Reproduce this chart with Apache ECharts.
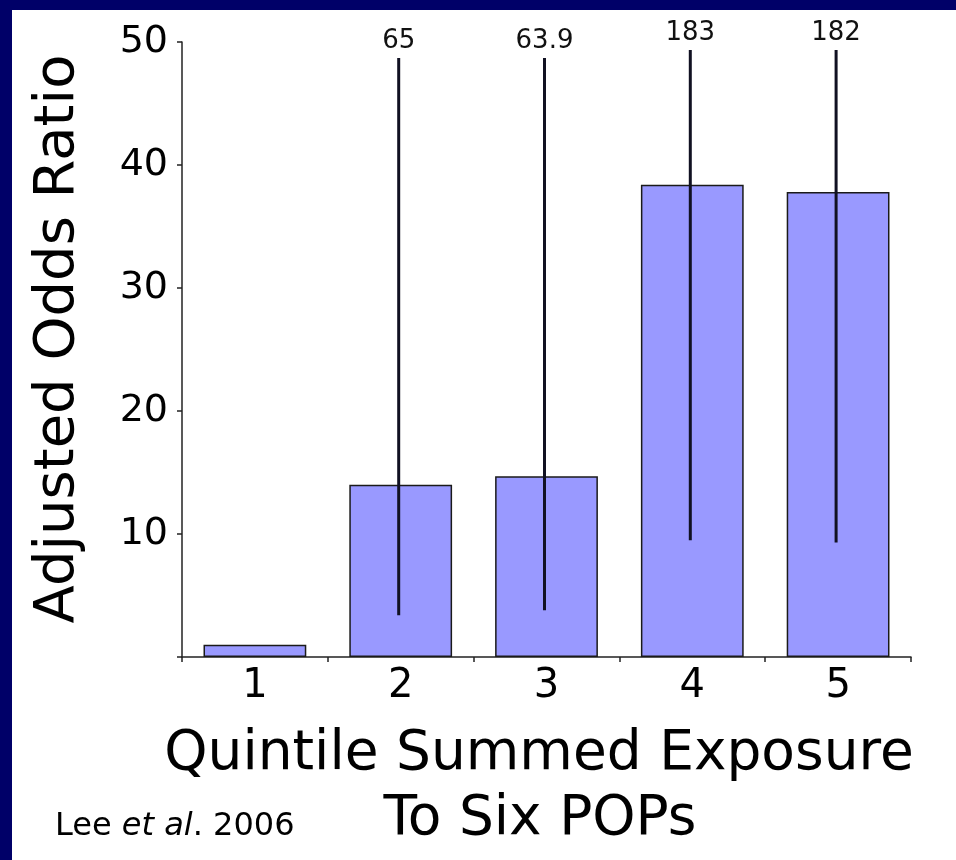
<!DOCTYPE html>
<html>
<head>
<meta charset="utf-8">
<title>Adjusted Odds Ratio by Quintile of Summed POP Exposure</title>
<script src="https://cdn.jsdelivr.net/npm/echarts@6/dist/echarts.min.js"></script>
<style>
  html, body { margin: 0; padding: 0; background: #ffffff; }
  #chart { width: 956px; height: 860px; }
</style>
</head>
<body>
<div id="chart"></div>
<script>
// Quintiles of summed exposure to six POPs
const quintiles = ['1', '2', '3', '4', '5'];
// Adjusted odds ratios (quintile 1 is the reference group)
const oddsRatios = [1.0, 14.0, 14.7, 38.4, 37.8];
// 95% confidence limits
const ciLower = [null, 3.4, 3.8, 9.5, 9.3];
const ciUpper = [null, 65, 63.9, 183, 182];
// Upper limits run off the axis; whiskers are cut here and the true limit is written above
const ciShownTop = [null, 48.7, 48.7, 49.35, 49.35];
// Value axis
const yMin = 0, yMax = 50, yStep = 10;

const FONT = '"DejaVu Sans", Verdana, sans-serif';

const errorData = quintiles.map((q, i) => [i, ciLower[i], Math.min(ciUpper[i] ?? 0, ciShownTop[i] ?? 0), ciUpper[i]])
  .filter(d => d[1] != null);

const chart = echarts.init(document.getElementById('chart'), null, { renderer: 'canvas' });

chart.setOption({
  backgroundColor: '#ffffff',
  animation: false,
  grid: { left: 182, right: 45, top: 42, bottom: 203, containLabel: false },
  xAxis: {
    type: 'category',
    data: quintiles,
    boundaryGap: true,
    axisLine: { lineStyle: { color: '#222', width: 1.5 } },
    axisTick: { show: true, length: 5, lineStyle: { color: '#222', width: 1.5 } },
    axisLabel: { color: '#000', fontFamily: FONT, fontSize: 40, margin: 10 },
    splitLine: { show: false }
  },
  yAxis: {
    type: 'value',
    min: yMin, max: yMax, interval: yStep,
    axisLine: { show: true, lineStyle: { color: '#222', width: 1.5 } },
    axisTick: { show: true, length: 5, lineStyle: { color: '#222', width: 1.5 } },
    axisLabel: {
      color: '#000', fontFamily: FONT, fontSize: 38, margin: 14,
      formatter: v => (v === 0 ? '' : String(v))
    },
    splitLine: { show: false }
  },
  series: [
    {
      type: 'bar',
      data: oddsRatios,
      barWidth: '70.5%',
      itemStyle: { color: '#9999ff', borderColor: '#1a1a1a', borderWidth: 1.5 },
      z: 2
    },
    {
      type: 'custom',
      data: errorData,
      z: 5,
      renderItem: (params, api) => {
        const x = api.value(0);
        const lo = api.coord([x, api.value(1)]);
        const hi = api.coord([x, api.value(2)]);
        return {
          type: 'group',
          children: [
            {
              type: 'line',
              shape: { x1: lo[0] - 2, y1: lo[1], x2: hi[0] - 2, y2: hi[1] },
              style: { stroke: '#111122', lineWidth: 3 }
            },
            {
              type: 'text',
              x: hi[0] - 2,
              y: hi[1] - 4,
              style: {
                text: String(api.value(3)),
                fill: '#111',
                font: '26px ' + FONT,
                textAlign: 'center',
                textVerticalAlign: 'bottom'
              }
            }
          ]
        };
      }
    }
  ],
  graphic: [
    // navy frame strips
    { type: 'rect', left: 0, top: 0, shape: { width: 956, height: 10 }, style: { fill: '#000068' }, z: 100 },
    { type: 'rect', left: 0, top: 0, shape: { width: 12, height: 860 }, style: { fill: '#000068' }, z: 100 },
    {
      type: 'text',
      x: 58, y: 339,
      rotation: Math.PI / 2,
      style: {
        text: 'Adjusted Odds Ratio',
        fill: '#000', font: '56px ' + FONT,
        textAlign: 'center', textVerticalAlign: 'middle'
      }
    },
    {
      type: 'text',
      x: 539, y: 755,
      style: {
        text: 'Quintile Summed Exposure',
        fill: '#000', font: '55px ' + FONT,
        textAlign: 'center', textVerticalAlign: 'middle'
      }
    },
    {
      type: 'text',
      x: 540, y: 820,
      style: {
        text: 'To Six POPs',
        fill: '#000', font: '55px ' + FONT,
        textAlign: 'center', textVerticalAlign: 'middle'
      }
    },
    {
      type: 'text',
      x: 55, y: 827,
      style: {
        text: '{n|Lee }{i|et al}{n|. 2006}',
        textAlign: 'left', textVerticalAlign: 'middle',
        rich: {
          n: { fontFamily: FONT, fontSize: 32, fill: '#000' },
          i: { fontFamily: FONT, fontSize: 32, fontStyle: 'italic', fill: '#000' }
        }
      }
    }
  ]
});
</script>
</body>
</html>
